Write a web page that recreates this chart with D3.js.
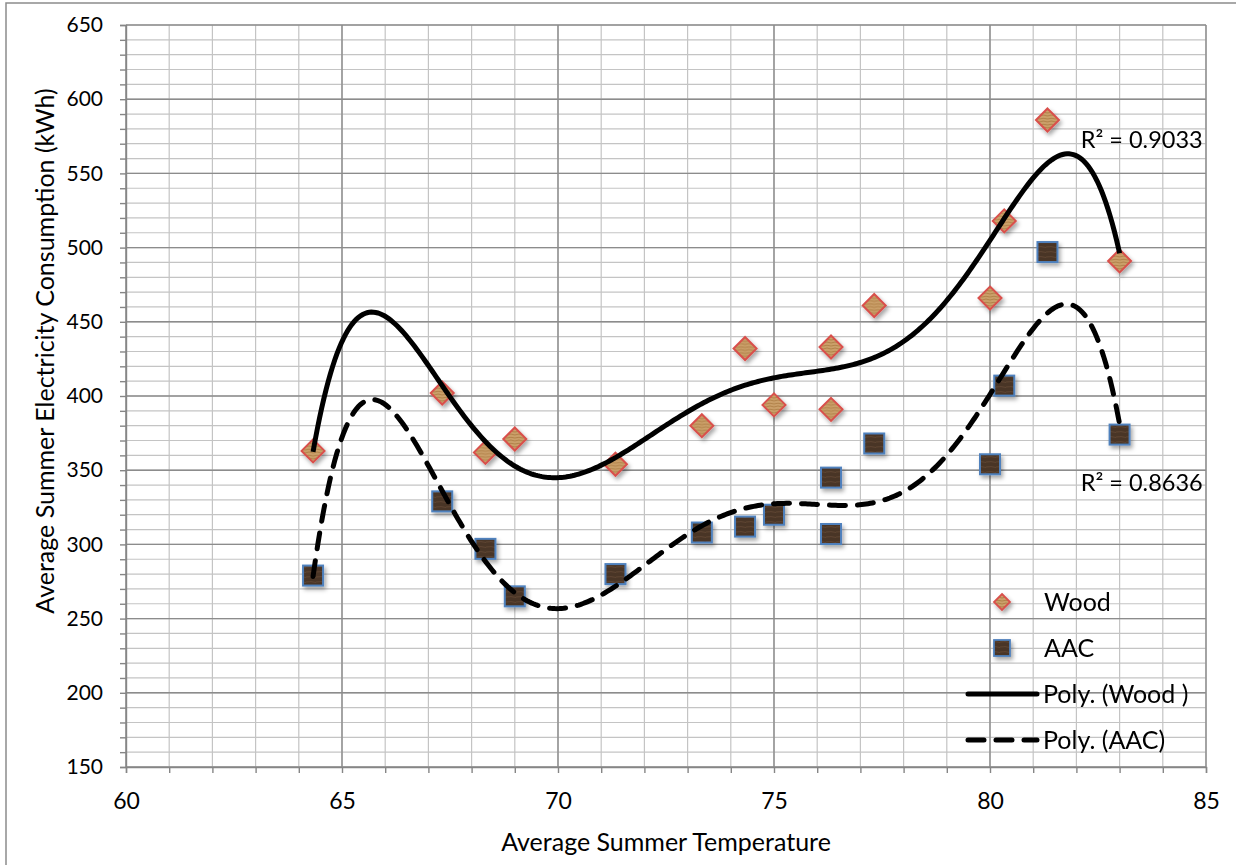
<!DOCTYPE html>
<meta charset="utf-8">
<style>
body { margin: 0; background: #fff; }
text { font-family: Lato, "Open Sans", sans-serif; fill: #000; }
.grid-minor line { stroke: #c4c4c4; stroke-width: 1.2; }
.grid-major line { stroke: #8c8c8c; stroke-width: 1.4; }
.axis path, .axis line { stroke: #868686; stroke-width: 1.4; }
.axis text { font-size: 21px; }
.axis.xl text { font-size: 23px; }
</style>
<body>
<svg width="1236" height="865"></svg>
<script src="https://cdnjs.cloudflare.com/ajax/libs/d3/7.8.5/d3.min.js"></script>
<script>

var temps = [64.33, 67.32, 68.32, 69.0, 71.33, 73.33, 74.33, 75.0, 76.32, 76.32, 77.32, 80.0, 80.33, 81.33, 83.0];
var wood  = [363, 402, 362, 371, 354, 380, 432, 394, 433, 391, 461, 466, 518, 586, 491];
var aac   = [279, 329, 297, 265, 280, 308, 312, 320, 345, 307, 368, 354, 407, 497, 374];

var xTicks = [60, 65, 70, 75, 80, 85];
var yTicks = [150, 200, 250, 300, 350, 400, 450, 500, 550, 600, 650];
var r2Labels = ["R\u00b2 = 0.9033", "R\u00b2 = 0.8636"];
var legendNames = ["Wood", "AAC", "Poly. (Wood )", "Poly. (AAC)"];
var polyOrder = 6;

var svg = d3.select("svg"),
    margin = {top: 25, right: 30, bottom: 98, left: 126},
    width = 1206 - margin.left,
    height = 767 - margin.top;

var x = d3.scaleLinear().domain([60, 85]).range([0, width]);
var y = d3.scaleLinear().domain([150, 650]).range([height, 0]);

var defs = svg.append("defs");

// textured fills, a rough stand-in for the wood / brick pictures
var pw = defs.append("pattern").attr("id", "woodTex")
    .attr("patternUnits", "userSpaceOnUse").attr("width", 8).attr("height", 6);
pw.append("rect").attr("width", 8).attr("height", 6).attr("fill", "#cba06a");
pw.append("path").attr("d", "M0,2 Q4,0 8,2 M0,5 Q4,3.5 8,5").attr("stroke", "#a8773f").attr("stroke-width", 0.8).attr("fill", "none");

var pa = defs.append("pattern").attr("id", "aacTex")
    .attr("patternUnits", "userSpaceOnUse").attr("width", 10).attr("height", 5);
pa.append("rect").attr("width", 10).attr("height", 5).attr("fill", "#4a3526");
pa.append("path").attr("d", "M0,2 Q5,1 10,2.5").attr("stroke", "#5e4532").attr("stroke-width", 1).attr("fill", "none");

var shadow = defs.append("filter").attr("id", "shadow")
    .attr("x", "-50%").attr("y", "-50%").attr("width", "200%").attr("height", "200%");
shadow.append("feDropShadow").attr("dx", 2).attr("dy", 3).attr("stdDeviation", 2)
    .attr("flood-color", "#000").attr("flood-opacity", 0.35);

// outer chart border
svg.append("rect")
    .attr("x", 6).attr("y", 3).attr("width", 1240).attr("height", 870)
    .attr("fill", "none").attr("stroke", "#8c8c8c").attr("stroke-width", 1.5);

var g = svg.append("g").attr("transform", "translate(" + margin.left + "," + margin.top + ")");

// gridlines
g.append("g").attr("class", "grid-minor")
    .selectAll("line.h").data(d3.range(150, 651, 10)).enter().append("line")
    .attr("x1", 0).attr("x2", width)
    .attr("y1", function(d) { return y(d); }).attr("y2", function(d) { return y(d); });
g.select(".grid-minor")
    .selectAll("line.v").data(d3.range(60, 86, 1)).enter().append("line")
    .attr("y1", 0).attr("y2", height)
    .attr("x1", function(d) { return x(d); }).attr("x2", function(d) { return x(d); });

var major = g.append("g").attr("class", "grid-major");
major.selectAll("line.h").data(yTicks).enter().append("line")
    .attr("x1", 0).attr("x2", width)
    .attr("y1", function(d) { return y(d); }).attr("y2", function(d) { return y(d); });
major.selectAll("line.v").data(xTicks).enter().append("line")
    .attr("y1", 0).attr("y2", height)
    .attr("x1", function(d) { return x(d); }).attr("x2", function(d) { return x(d); });

// axes: minor tick marks and labels
g.append("g").attr("class", "axis")
    .call(d3.axisLeft(y).tickValues(d3.range(150, 651, 10)).tickSize(6).tickFormat(""));
g.append("g").attr("class", "axis")
    .call(d3.axisLeft(y).tickValues(yTicks).tickSize(6).tickPadding(17))
    .call(function(a) { a.select(".domain").remove(); a.selectAll("line").remove(); });

g.append("g").attr("class", "axis")
    .attr("transform", "translate(0," + height + ")")
    .call(d3.axisBottom(x).tickValues(d3.range(60, 86, 1)).tickSize(6).tickFormat(""));
g.append("g").attr("class", "axis xl")
    .attr("transform", "translate(0," + height + ")")
    .call(d3.axisBottom(x).tickValues(xTicks).tickSize(6).tickPadding(20))
    .call(function(a) { a.select(".domain").remove(); a.selectAll("line").remove(); });

// axis titles
svg.append("text")
    .attr("x", margin.left + x(72.5)).attr("y", 851)
    .attr("text-anchor", "middle").attr("font-size", 25)
    .text("Average Summer Temperature");
svg.append("text")
    .attr("transform", "translate(54,351) rotate(-90)")
    .attr("text-anchor", "middle").attr("font-size", 25)
    .text("Average Summer Electricity Consumption (kWh)");

// least squares polynomial trend, like a spreadsheet "Poly." trendline
function polyFit(xs, ys, order) {
  var c = d3.mean(xs), s = 10, n = order + 1;
  var A = [], b = [];
  for (var i = 0; i < n; i++) { A.push(new Array(n).fill(0)); b.push(0); }
  xs.forEach(function(xv, k) {
    var t = (xv - c) / s;
    for (var i = 0; i < n; i++) {
      b[i] += ys[k] * Math.pow(t, i);
      for (var j = 0; j < n; j++) A[i][j] += Math.pow(t, i + j);
    }
  });
  for (var i = 0; i < n; i++) {
    var p = i;
    for (var r = i + 1; r < n; r++) if (Math.abs(A[r][i]) > Math.abs(A[p][i])) p = r;
    var tmp = A[i]; A[i] = A[p]; A[p] = tmp;
    var tb = b[i]; b[i] = b[p]; b[p] = tb;
    for (var r = i + 1; r < n; r++) {
      var f = A[r][i] / A[i][i];
      for (var j = i; j < n; j++) A[r][j] -= f * A[i][j];
      b[r] -= f * b[i];
    }
  }
  var coef = new Array(n).fill(0);
  for (var i = n - 1; i >= 0; i--) {
    var sum = b[i];
    for (var j = i + 1; j < n; j++) sum -= A[i][j] * coef[j];
    coef[i] = sum / A[i][i];
  }
  return function(xv) {
    var t = (xv - c) / s, v = 0;
    for (var i = 0; i < n; i++) v += coef[i] * Math.pow(t, i);
    return v;
  };
}

var line = d3.line()
    .x(function(d) { return x(d[0]); })
    .y(function(d) { return y(d[1]); });

var xmin = d3.min(temps), xmax = d3.max(temps);
var samples = d3.range(xmin, xmax, 0.05).concat([xmax]);

var fitWood = polyFit(temps, wood, polyOrder),
    fitAac = polyFit(temps, aac, polyOrder);

// markers
var pts = g.append("g").attr("filter", "url(#shadow)");
pts.selectAll("rect.aac").data(temps).enter().append("rect")
    .attr("x", function(d) { return x(d) - 10; })
    .attr("y", function(d, i) { return y(aac[i]) - 10; })
    .attr("width", 20).attr("height", 20)
    .attr("fill", "url(#aacTex)").attr("stroke", "#4f81bd").attr("stroke-width", 2);
pts.selectAll("path.wood").data(temps).enter().append("path")
    .attr("transform", function(d, i) { return "translate(" + x(d) + "," + y(wood[i]) + ")"; })
    .attr("d", "M0,-11.5L11.5,0L0,11.5L-11.5,0Z")
    .attr("fill", "url(#woodTex)").attr("stroke", "#d9504c").attr("stroke-width", 2);

// trend lines
g.append("path")
    .datum(samples.map(function(v) { return [v, fitWood(v)]; }))
    .attr("d", line).attr("fill", "none").attr("stroke", "#000").attr("stroke-width", 5);
g.append("path")
    .datum(samples.map(function(v) { return [v, fitAac(v)]; }))
    .attr("d", line).attr("fill", "none").attr("stroke", "#000").attr("stroke-width", 5)
    .attr("stroke-dasharray", "16,12").attr("stroke-linecap", "round");

// R squared labels
g.append("text").attr("x", x(82.1)).attr("y", y(550) - 25)
    .attr("font-size", 23.5).text(r2Labels[0]);
g.append("text").attr("x", x(82.1)).attr("y", y(350) + 21)
    .attr("font-size", 23.5).text(r2Labels[1]);

// legend
var lg = svg.append("g").attr("font-size", 25);
lg.append("path").attr("transform", "translate(1002,602)")
    .attr("d", "M0,-8L8,0L0,8L-8,0Z").attr("filter", "url(#shadow)")
    .attr("fill", "url(#woodTex)").attr("stroke", "#d9504c").attr("stroke-width", 1.8);
lg.append("rect").attr("x", 994).attr("y", 640).attr("width", 16).attr("height", 16)
    .attr("filter", "url(#shadow)")
    .attr("fill", "url(#aacTex)").attr("stroke", "#4f81bd").attr("stroke-width", 1.8);
lg.append("line").attr("x1", 968).attr("x2", 1037).attr("y1", 694).attr("y2", 694)
    .attr("stroke", "#000").attr("stroke-width", 5).attr("stroke-linecap", "round");
lg.append("line").attr("x1", 968).attr("x2", 1037).attr("y1", 740).attr("y2", 740)
    .attr("stroke", "#000").attr("stroke-width", 5).attr("stroke-linecap", "round")
    .attr("stroke-dasharray", "16,12");
[602, 648, 694, 740].forEach(function(yy, i) {
  lg.append("text").attr("x", i < 2 ? 1044 : 1043).attr("y", yy + 9).text(legendNames[i]);
});

</script>
</body>
